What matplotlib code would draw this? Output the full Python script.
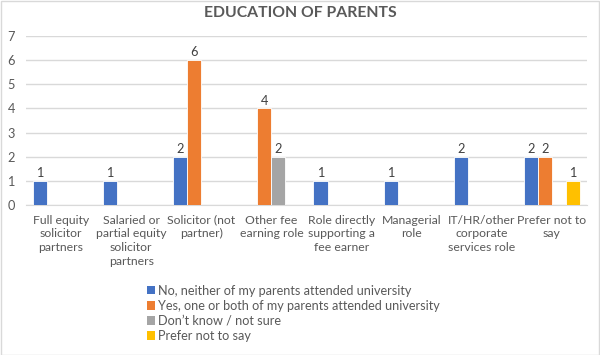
import matplotlib
matplotlib.use("Agg")
import matplotlib.pyplot as plt
from matplotlib.patches import Rectangle, Patch
import numpy as np

categories = [
    "Full equity\nsolicitor\npartners",
    "Salaried or\npartial equity\nsolicitor\npartners",
    "Solicitor (not\npartner)",
    "Other fee\nearning role",
    "Role directly\nsupporting a\nfee earner",
    "Managerial\nrole",
    "IT/HR/other\ncorporate\nservices role",
    "Prefer not to\nsay",
]
series_names = [
    "No, neither of my parents attended university",
    "Yes, one or both of my parents attended university",
    "Don\u2019t know / not sure",
    "Prefer not to say",
]
no_vals = [1, 1, 2, 0, 1, 1, 2, 2]
yes_vals = [0, 0, 6, 4, 0, 0, 0, 2]
dk_vals = [0, 0, 0, 2, 0, 0, 0, 0]
pnts_vals = [0, 0, 0, 0, 0, 0, 0, 1]
colors = ["#4472C4", "#ED7D31", "#A5A5A5", "#FFC000"]
yticks = [0, 1, 2, 3, 4, 5, 6, 7]

plt.rcParams['font.family'] = ['Lato', 'DejaVu Sans']
text_col = "#595959"
fs = 9.2

fig = plt.figure(figsize=(6.0, 3.55), dpi=100)
ax = fig.add_axes([0.0433, 0.4225, 0.935, 0.4761])

all_vals = [no_vals, yes_vals, dk_vals, pnts_vals]
x = np.arange(len(categories))
w = 0.2
for j, (vals, c) in enumerate(zip(all_vals, colors)):
    pos = x + (j - 1.5) * w
    ax.bar(pos, vals, width=w, color=c, edgecolor="white", linewidth=0.6, zorder=3)
    for p, v in zip(pos, vals):
        if v > 0:
            ax.text(p, v + 0.07, str(v), ha="center", va="bottom", fontsize=fs, color="#404040")

ax.set_xlim(-0.5, len(categories) - 0.5)
ax.set_ylim(0, 7)
ax.set_yticks(yticks)
ax.yaxis.grid(True, color="#D9D9D9", linewidth=1, zorder=0)
ax.set_axisbelow(True)
for s in ["top", "right", "left"]:
    ax.spines[s].set_visible(False)
ax.spines["bottom"].set_color("#D9D9D9")
ax.set_xticks(x)
ax.set_xticklabels(categories, fontsize=8.8, color=text_col, linespacing=1.3, va="top")
ax.tick_params(axis="x", length=0, pad=7)
ax.tick_params(axis="y", length=0, pad=8, labelsize=fs, labelcolor=text_col)

fig.text(0.5, 0.963, "EDUCATION OF PARENTS", ha="center", va="center",
         fontsize=11.3, fontweight="bold", color=text_col)

handles = [Patch(facecolor=c, edgecolor="none") for c in colors]
fig.legend(handles, series_names, loc="upper left", bbox_to_anchor=(0.245, 0.198),
           frameon=False, fontsize=9.1, labelcolor=text_col, handlelength=0.65, handleheight=0.65,
           handletextpad=0.25, labelspacing=0.24, borderaxespad=0, borderpad=0)

fig.patches.append(Rectangle((0.001, 0.001), 0.997, 0.997, transform=fig.transFigure,
                             fill=False, edgecolor="#D9D9D9", linewidth=1))

fig.savefig("out.png", dpi=100, facecolor="white")
